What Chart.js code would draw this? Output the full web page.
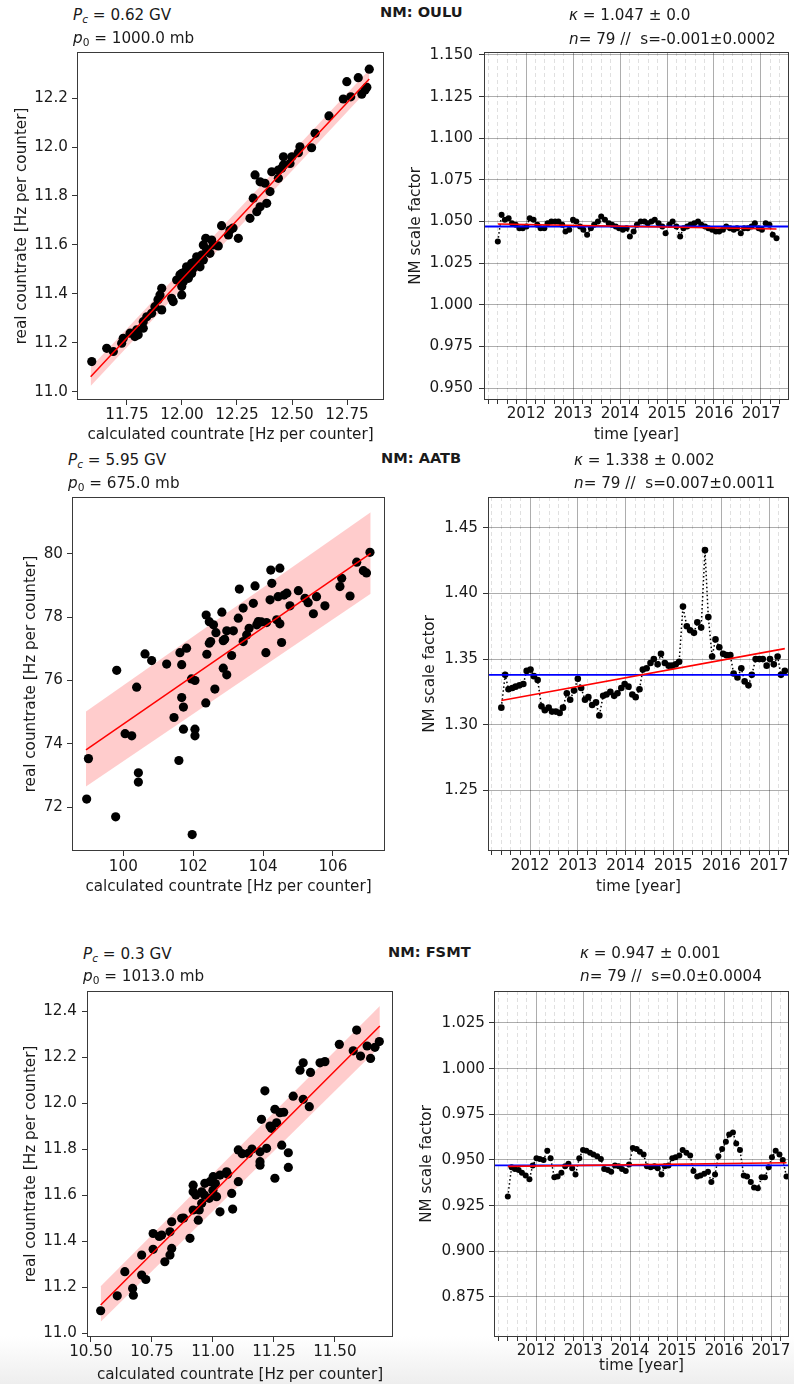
<!DOCTYPE html>
<html><head><meta charset="utf-8">
<script src="https://cdn.jsdelivr.net/npm/chart.js@4.4.1/dist/chart.umd.min.js"></script>
<style>
html,body{margin:0;padding:0;}
body{width:794px;height:1384px;position:relative;overflow:hidden;font-family:'DejaVu Sans',sans-serif;color:#1a1a1a;
  background:linear-gradient(to bottom,#ffffff 0px,#ffffff 1336px,#eeeeee 1384px);}
canvas{position:absolute;}
.t{position:absolute;font-size:15.2px;line-height:18px;white-space:pre;z-index:5;}
.b{font-weight:bold;font-size:14.6px;}
.sub{font-size:70%;position:relative;top:0.3em;}
</style></head>
<body>
<div class="t" style="left:73px;top:6px"><i>P</i><i class="sub">c</i> = 0.62 GV</div>
<div class="t" style="left:73px;top:29px"><i>p</i><span class="sub">0</span> = 1000.0 mb</div>
<div class="t b" style="left:380px;top:3px">NM: OULU</div>
<div class="t" style="left:569px;top:6px"><i>κ</i> = 1.047 ± 0.0</div>
<div class="t" style="left:569px;top:30px"><i>n</i>= 79 //  s=-0.001±0.0002</div>

<div class="t" style="left:68px;top:451px"><i>P</i><i class="sub">c</i> = 5.95 GV</div>
<div class="t" style="left:68px;top:474px"><i>p</i><span class="sub">0</span> = 675.0 mb</div>
<div class="t b" style="left:381px;top:449px">NM: AATB</div>
<div class="t" style="left:574px;top:451px"><i>κ</i> = 1.338 ± 0.002</div>
<div class="t" style="left:574px;top:474px"><i>n</i>= 79 //  s=0.007±0.0011</div>

<div class="t" style="left:83px;top:945px"><i>P</i><i class="sub">c</i> = 0.3 GV</div>
<div class="t" style="left:83px;top:967px"><i>p</i><span class="sub">0</span> = 1013.0 mb</div>
<div class="t b" style="left:388px;top:943px">NM: FSMT</div>
<div class="t" style="left:580px;top:944px"><i>κ</i> = 0.947 ± 0.001</div>
<div class="t" style="left:580px;top:967px"><i>n</i>= 79 //  s=0.0±0.0004</div>

<script>
// ---------------- data ----------------
const TIMES = [2011.40,2011.48,2011.55,2011.63,2011.70,2011.78,2011.86,2011.93,2012.01,2012.08,
2012.16,2012.24,2012.31,2012.39,2012.46,2012.54,2012.62,2012.69,2012.77,2012.84,
2012.92,2013.00,2013.07,2013.15,2013.22,2013.30,2013.38,2013.45,2013.53,2013.60,
2013.68,2013.76,2013.83,2013.91,2013.98,2014.06,2014.14,2014.21,2014.29,2014.36,
2014.44,2014.52,2014.59,2014.67,2014.74,2014.82,2014.90,2014.97,2015.05,2015.12,
2015.20,2015.28,2015.35,2015.43,2015.50,2015.58,2015.66,2015.73,2015.81,2015.88,
2015.96,2016.04,2016.11,2016.19,2016.26,2016.34,2016.42,2016.49,2016.57,2016.64,
2016.72,2016.80,2016.87,2016.95,2017.02,2017.10,2017.18,2017.25,2017.33];

const OULU_SF = [1.038,1.054,1.051,1.052,1.049,1.048,1.046,1.046,1.047,1.052,
1.051,1.048,1.046,1.046,1.049,1.050,1.050,1.050,1.048,1.044,
1.045,1.051,1.050,1.047,1.045,1.042,1.046,1.048,1.050,1.053,
1.051,1.049,1.048,1.047,1.046,1.045,1.046,1.041,1.044,1.048,
1.050,1.050,1.049,1.050,1.051,1.049,1.047,1.043,1.048,1.050,
1.047,1.041,1.046,1.047,1.048,1.049,1.050,1.048,1.047,1.046,
1.045,1.044,1.044,1.045,1.047,1.046,1.045,1.046,1.043,1.046,
1.046,1.047,1.049,1.046,1.045,1.049,1.048,1.042,1.040];

const AATB_SF = [1.313,1.338,1.327,1.328,1.329,1.330,1.331,1.341,1.342,1.337,
1.334,1.314,1.311,1.313,1.310,1.310,1.309,1.313,1.324,1.319,
1.326,1.335,1.328,1.319,1.321,1.315,1.317,1.307,1.322,1.323,
1.325,1.322,1.324,1.328,1.331,1.329,1.323,1.321,1.327,1.342,
1.343,1.347,1.350,1.346,1.354,1.347,1.345,1.345,1.346,1.348,
1.390,1.375,1.372,1.370,1.378,1.374,1.433,1.382,1.352,1.365,
1.359,1.354,1.353,1.353,1.339,1.336,1.343,1.333,1.330,1.338,
1.350,1.350,1.350,1.345,1.350,1.346,1.352,1.338,1.341];

const FSMT_SF = [0.930,0.946,0.945,0.9445,0.943,0.9415,0.9395,0.947,0.951,0.9505,
0.950,0.955,0.951,0.9405,0.941,0.943,0.9465,0.948,0.9455,0.942,
0.951,0.9555,0.955,0.954,0.953,0.952,0.9505,0.945,0.9445,0.9435,
0.947,0.9465,0.945,0.944,0.9475,0.9565,0.956,0.9545,0.953,0.9465,
0.946,0.9465,0.9455,0.942,0.9465,0.947,0.951,0.9515,0.9525,0.9555,
0.954,0.9525,0.944,0.941,0.9415,0.9425,0.9435,0.938,0.942,0.952,
0.956,0.960,0.964,0.965,0.959,0.9555,0.9415,0.941,0.938,0.935,
0.9345,0.9405,0.9405,0.946,0.9515,0.955,0.953,0.950,0.941];

const OULU_KAPPA = 1.047, AATB_KAPPA = 1.338, FSMT_KAPPA = 0.947;
const OULU_TREND_X = [2011.40, 2017.33], OULU_TREND_Y = [1.0485, 1.0455];
const AATB_TREND_X = [2011.40, 2017.33], AATB_TREND_Y = [1.3185, 1.3580];
const FSMT_TREND_X = [2011.40, 2017.33], FSMT_TREND_Y = [0.9465, 0.9485];

const OULU_CALC = [12.851,12.801,12.749,12.840,12.817,12.767,12.733,12.668,12.605,12.589,12.536,12.529,12.499,12.461,12.491,12.438,12.408,12.332,12.438,12.377,12.400,12.324,12.385,12.355,12.340,12.309,12.180,12.218,12.211,12.256,12.108,12.135,12.097,12.142,12.112,12.165,12.067,12.090,12.097,12.082,12.044,12.021,11.999,12.044,12.029,11.991,12.014,11.999,12.006,11.999,11.953,11.960,11.908,11.900,11.908,11.877,11.862,11.840,11.824,11.824,11.801,11.786,11.764,11.733,11.726,11.688,11.658,11.590,12.051,12.127,12.461,12.355,12.453,12.832,11.794,11.976,12.232,12.059,11.891];
const OULU_REAL = [12.318,12.283,12.267,12.244,12.216,12.205,12.196,12.127,12.056,11.997,12.001,11.977,11.960,11.927,11.933,11.906,11.899,11.886,11.872,11.852,11.818,11.791,11.770,11.756,11.736,11.709,11.679,11.661,11.641,11.627,11.627,11.620,11.600,11.600,11.582,11.596,11.552,11.559,11.539,11.511,11.525,11.511,11.484,11.484,11.464,11.478,11.491,11.430,11.450,11.396,11.382,11.369,11.423,11.396,11.335,11.348,11.321,11.307,11.287,11.260,11.233,11.226,11.240,11.219,11.199,11.165,11.178,11.124,11.505,11.566,11.960,11.858,11.913,12.233,11.253,11.457,11.669,11.531,11.376];
const OULU_FIT_X = [11.585, 12.851], OULU_FIT_Y = [11.062, 12.278];
const OULU_BAND_LO = [11.024, 12.240], OULU_BAND_HI = [11.100, 12.316];

const AATB_CALC = [107.06,106.68,106.87,106.96,106.25,106.20,106.49,105.53,105.29,105.77,105.44,105.01,104.68,104.43,104.77,104.48,104.22,104.25,104.20,103.77,103.32,103.72,103.43,103.29,103.86,104.10,104.39,104.48,103.82,103.53,103.43,104.53,104.08,102.82,102.37,102.46,102.58,102.65,102.96,103.15,102.50,102.46,102.86,102.39,101.81,101.62,101.24,101.67,100.62,100.81,103.10,102.86,99.81,100.38,102.05,102.96,102.62,102.36,101.67,101.72,101.45,101.72,102.05,102.05,100.05,100.24,99.00,101.59,100.43,100.43,98.95,99.78,101.97,103.60,104.60,102.90,103.95,105.20,101.95];
const AATB_REAL = [80.05,79.74,79.47,79.40,79.23,78.97,78.67,78.65,78.46,78.36,78.11,78.84,78.76,78.65,78.36,79.55,79.49,79.07,78.55,78.99,78.89,78.44,78.29,77.97,77.86,77.83,77.92,77.79,77.76,77.44,77.23,77.20,76.88,78.16,78.07,77.86,77.76,77.51,77.57,77.57,77.23,77.18,77.26,76.83,77.02,76.88,76.52,76.50,76.84,76.63,76.79,76.39,76.32,75.79,76.00,76.18,75.73,75.29,75.46,75.16,74.83,74.46,74.46,74.25,74.32,74.25,73.53,73.47,73.08,72.79,72.25,71.69,71.13,77.65,78.70,77.30,77.85,78.60,76.05];
const AATB_FIT_X = [98.93, 107.08], AATB_FIT_Y = [73.81, 80.02];
const AATB_BAND_LO = [72.65, 78.74], AATB_BAND_HI = [75.02, 81.32];

const FSMT_CALC = [11.682,11.664,11.632,11.646,11.605,11.589,11.575,11.518,11.459,11.439,11.370,11.357,11.400,11.329,11.370,11.395,11.213,11.254,11.275,11.199,11.261,11.234,11.282,11.309,11.104,11.145,11.193,11.220,11.193,11.193,11.254,11.309,11.104,11.077,11.081,11.029,11.056,11.029,11.001,10.988,10.967,11.015,10.985,10.954,10.919,10.919,10.954,10.944,10.919,10.940,10.906,10.872,10.831,10.824,10.831,10.824,10.803,10.790,10.755,10.755,10.708,10.708,10.725,10.671,10.674,10.639,10.608,10.540,10.930,10.965,11.000,11.060,11.120,11.160,11.240,10.880,10.780,11.290,11.010];
const FSMT_REAL = [12.267,12.242,12.248,12.194,12.204,12.317,12.227,12.255,12.180,12.175,12.175,12.143,12.133,12.030,12.016,11.984,12.053,11.973,11.958,11.929,11.914,11.900,11.817,11.784,11.796,11.781,11.788,11.803,11.730,11.745,11.673,11.720,11.658,11.607,11.539,11.527,11.701,11.687,11.680,11.658,11.651,11.593,11.586,11.614,11.643,11.614,11.564,11.535,11.535,11.491,11.412,11.499,11.484,11.440,11.368,11.339,11.310,11.426,11.433,11.364,11.339,11.252,11.233,11.194,11.165,11.267,11.162,11.097,11.600,11.600,11.620,11.690,11.780,11.800,11.890,11.500,11.420,11.960,11.650];
const FSMT_FIT_X = [10.540, 11.684], FSMT_FIT_Y = [11.122, 12.335];
const FSMT_BAND_LO = [11.049, 12.245], FSMT_BAND_HI = [11.204, 12.422];

// tick labels
const OULU_X_TICKS = [11.75, 12.00, 12.25, 12.50, 12.75];
const OULU_Y_TICKS = [11.0, 11.2, 11.4, 11.6, 11.8, 12.0, 12.2];
const AATB_X_TICKS = [100, 102, 104, 106];
const AATB_Y_TICKS = [72, 74, 76, 78, 80];
const FSMT_X_TICKS = [10.50, 10.75, 11.00, 11.25, 11.50];
const FSMT_Y_TICKS = [11.0, 11.2, 11.4, 11.6, 11.8, 12.0, 12.2, 12.4];
const OULU_SF_TICKS = [0.950, 0.975, 1.000, 1.025, 1.050, 1.075, 1.100, 1.125, 1.150];
const AATB_SF_TICKS = [1.25, 1.30, 1.35, 1.40, 1.45];
const FSMT_SF_TICKS = [0.875, 0.900, 0.925, 0.950, 0.975, 1.000, 1.025];
const YEAR_TICKS = [2012, 2013, 2014, 2015, 2016, 2017];
const MINOR_STEP = 0.2;

// ---------------- drawing ----------------
const FAM = "'DejaVu Sans', sans-serif";
const FONT = {family: FAM, size: 15.2, lineHeight: 1.2};
const TXT = '#1a1a1a';
Chart.defaults.font.family = FAM;
Chart.defaults.font.size = 15.2;
Chart.defaults.color = TXT;
Chart.defaults.animation = false;

const framePlugin = {
  id: 'frame',
  afterDatasetsDraw(chart) {
    const {ctx, chartArea: a} = chart;
    ctx.save();
    ctx.strokeStyle = '#3a3a3a';
    ctx.lineWidth = 1;
    ctx.strokeRect(Math.round(a.left) + 0.5, Math.round(a.top) + 0.5,
                   Math.round(a.right - a.left) - 1, Math.round(a.bottom - a.top) - 1);
    ctx.restore();
  }
};

function pairs(xs, ys) { return xs.map((x, i) => ({x: x, y: ys[i]})); }
function fixedTicks(values) {
  return s => { s.ticks = values.filter(v => v >= s.min - 1e-9 && v <= s.max + 1e-9).map(v => ({value: v})); };
}
function timeTicks() {
  return s => {
    const vals = [];
    for (let k = Math.ceil(s.min / MINOR_STEP); k * MINOR_STEP <= s.max + 1e-9; k++) {
      vals.push(Math.round(k * MINOR_STEP * 10) / 10);
    }
    s.ticks = vals.map(v => ({value: v}));
  };
}
function isMajor(v) { return YEAR_TICKS.some(y => Math.abs(y - v) < 1e-6); }

function makeCanvas(b) {
  const c = document.createElement('canvas');
  c.width = b.w; c.height = b.h;
  c.style.left = b.x + 'px'; c.style.top = b.y + 'px';
  c.style.width = b.w + 'px'; c.style.height = b.h + 'px';
  document.body.appendChild(c);
  return c;
}

function baseOptions(p) {
  return {
    responsive: false, animation: false, devicePixelRatio: 1, events: [],
    layout: {padding: {left: 0, top: 16, right: p.padRight, bottom: 0}},
    plugins: {legend: {display: false}, tooltip: {enabled: false}}
  };
}

function scatterPanel(p) {
  const cv = makeCanvas(p.box);
  const opts = baseOptions(p);
  opts.scales = {
    x: {
      type: 'linear', position: 'bottom', min: p.xMin, max: p.xMax, bounds: 'data',
      afterBuildTicks: fixedTicks(p.xTicks),
      afterFit: s => { s.height = p.xAxisH; },
      ticks: {callback: v => v.toFixed(p.xDec), padding: p.xPad, maxRotation: 0, minRotation: 0, autoSkip: false, color: TXT, font: FONT},
      grid: {drawOnChartArea: false, drawTicks: true, tickLength: 5, tickColor: '#333', tickWidth: 1},
      border: {display: false},
      title: {display: true, text: 'calculated countrate [Hz per counter]', padding: 0, font: FONT, color: TXT}
    },
    y: {
      type: 'linear', position: 'left', min: p.yMin, max: p.yMax, bounds: 'data',
      afterBuildTicks: fixedTicks(p.yTicks),
      afterFit: s => { s.width = p.yAxisW; },
      ticks: {callback: v => v.toFixed(p.yDec), padding: p.yPad, autoSkip: false, color: TXT, font: FONT},
      grid: {drawOnChartArea: false, drawTicks: true, tickLength: 5, tickColor: '#333', tickWidth: 1},
      border: {display: false},
      title: {display: true, text: 'real countrate [Hz per counter]', padding: 0, font: FONT, color: TXT}
    }
  };
  new Chart(cv, {
    type: 'scatter',
    data: {datasets: [
      {type: 'line', data: pairs(p.fitX, p.bandLo), borderWidth: 0, borderColor: 'rgba(0,0,0,0)', pointRadius: 0, fill: false, order: 10},
      {type: 'line', data: pairs(p.fitX, p.bandHi), borderWidth: 0, borderColor: 'rgba(0,0,0,0)', pointRadius: 0, fill: '-1', backgroundColor: 'rgba(255,0,0,0.2)', order: 9},
      {type: 'scatter', data: pairs(p.xs, p.ys), pointRadius: 4.6, pointBackgroundColor: '#000', pointBorderWidth: 0, order: 5},
      {type: 'line', data: pairs(p.fitX, p.fitY), borderColor: '#ff0000', borderWidth: 1.5, pointRadius: 0, fill: false, order: 1}
    ]},
    options: opts,
    plugins: [framePlugin]
  });
}

function timePanel(p) {
  const cv = makeCanvas(p.box);
  const opts = baseOptions(p);
  opts.scales = {
    x: {
      type: 'linear', position: 'bottom', min: p.xMin, max: p.xMax, bounds: 'data',
      afterBuildTicks: timeTicks(),
      afterFit: s => { s.height = p.xAxisH; },
      ticks: {callback: v => isMajor(v) ? String(Math.round(v)) : '', padding: p.xPad, maxRotation: 0, minRotation: 0, autoSkip: false, color: TXT, font: FONT},
      grid: {
        drawOnChartArea: true, drawTicks: true, tickLength: 4, tickColor: '#333', tickWidth: 1, tickBorderDash: [],
        color: c => isMajor(c.tick.value) ? 'rgba(0,0,0,0.32)' : 'rgba(0,0,0,0.12)',
        lineWidth: 1
      },
      border: {display: false, dash: c => (c.tick && isMajor(c.tick.value)) ? [] : [4, 3]},
      title: {display: true, text: 'time [year]', padding: 0, font: FONT, color: TXT}
    },
    y: {
      type: 'linear', position: 'left', min: p.yMin, max: p.yMax, bounds: 'data',
      afterBuildTicks: fixedTicks(p.yTicks),
      afterFit: s => { s.width = p.yAxisW; },
      ticks: {callback: v => v.toFixed(p.yDec), padding: p.yPad, autoSkip: false, color: TXT, font: FONT},
      grid: {drawOnChartArea: true, drawTicks: true, tickLength: 5, tickColor: '#333', tickWidth: 1, color: 'rgba(0,0,0,0.32)', lineWidth: 1},
      border: {display: false},
      title: {display: true, text: 'NM scale factor', padding: 0, font: FONT, color: TXT}
    }
  };
  new Chart(cv, {
    type: 'scatter',
    data: {datasets: [
      {type: 'line', data: pairs(p.trendX, p.trendY), borderColor: '#ff0000', borderWidth: 1.6, pointRadius: 0, fill: false, order: 1},
      {type: 'line', data: [{x: p.xMin, y: p.kappa}, {x: p.xMax, y: p.kappa}], borderColor: '#0000ff', borderWidth: 1.8, pointRadius: 0, fill: false, order: 2},
      {type: 'line', data: pairs(TIMES, p.sf), borderColor: '#000', borderWidth: 1.5, borderDash: [1.5, 2.5], pointRadius: p.pr, pointBackgroundColor: '#000', pointBorderWidth: 0, fill: false, order: 5}
    ]},
    options: opts,
    plugins: [framePlugin]
  });
}

// OULU
scatterPanel({box: {x: 13, y: 36, w: 377, h: 408}, padRight: 6, yAxisW: 64, xAxisH: 44, xPad: 1, yPad: 4,
  xMin: 11.523, xMax: 12.918, yMin: 10.967, yMax: 12.388, xTicks: OULU_X_TICKS, yTicks: OULU_Y_TICKS, xDec: 2, yDec: 1,
  xs: OULU_CALC, ys: OULU_REAL, fitX: OULU_FIT_X, fitY: OULU_FIT_Y, bandLo: OULU_BAND_LO, bandHi: OULU_BAND_HI});
timePanel({box: {x: 407, y: 36, w: 387, h: 408}, padRight: 5, yAxisW: 77, xAxisH: 44, xPad: 1, yPad: 6,
  xMin: 2011.106, xMax: 2017.596, yMin: 0.9428, yMax: 1.1518, yTicks: OULU_SF_TICKS, yDec: 3,
  sf: OULU_SF, kappa: OULU_KAPPA, trendX: OULU_TREND_X, trendY: OULU_TREND_Y, pr: 3});

// AATB
scatterPanel({box: {x: 22, y: 481, w: 369, h: 415}, padRight: 6, yAxisW: 50, xAxisH: 45, xPad: 2, yPad: 4,
  xMin: 98.53, xMax: 107.49, yMin: 70.61, yMax: 81.80, xTicks: AATB_X_TICKS, yTicks: AATB_Y_TICKS, xDec: 0, yDec: 0,
  xs: AATB_CALC, ys: AATB_REAL, fitX: AATB_FIT_X, fitY: AATB_FIT_Y, bandLo: AATB_BAND_LO, bandHi: AATB_BAND_HI});
timePanel({box: {x: 421, y: 481, w: 373, h: 415}, padRight: 5, yAxisW: 67, xAxisH: 45, xPad: 2, yPad: 5,
  xMin: 2011.121, xMax: 2017.418, yMin: 1.2038, yMax: 1.4735, yTicks: AATB_SF_TICKS, yDec: 2,
  sf: AATB_SF, kappa: AATB_KAPPA, trendX: AATB_TREND_X, trendY: AATB_TREND_Y, pr: 3.3});

// FSMT
scatterPanel({box: {x: 22, y: 975, w: 377, h: 409}, padRight: 6, yAxisW: 65, xAxisH: 47, xPad: 1, yPad: 5,
  xMin: 10.484, xMax: 11.738, yMin: 10.983, yMax: 12.487, xTicks: FSMT_X_TICKS, yTicks: FSMT_Y_TICKS, xDec: 2, yDec: 1,
  xs: FSMT_CALC, ys: FSMT_REAL, fitX: FSMT_FIT_X, fitY: FSMT_FIT_Y, bandLo: FSMT_BAND_LO, bandHi: FSMT_BAND_HI});
timePanel({box: {x: 418, y: 975, w: 376, h: 400}, padRight: 5, yAxisW: 76, xAxisH: 38, xPad: 1, yPad: 4,
  xMin: 2011.106, xMax: 2017.383, yMin: 0.8531, yMax: 1.0425, yTicks: FSMT_SF_TICKS, yDec: 3,
  sf: FSMT_SF, kappa: FSMT_KAPPA, trendX: FSMT_TREND_X, trendY: FSMT_TREND_Y, pr: 3});
</script>
</body></html>
